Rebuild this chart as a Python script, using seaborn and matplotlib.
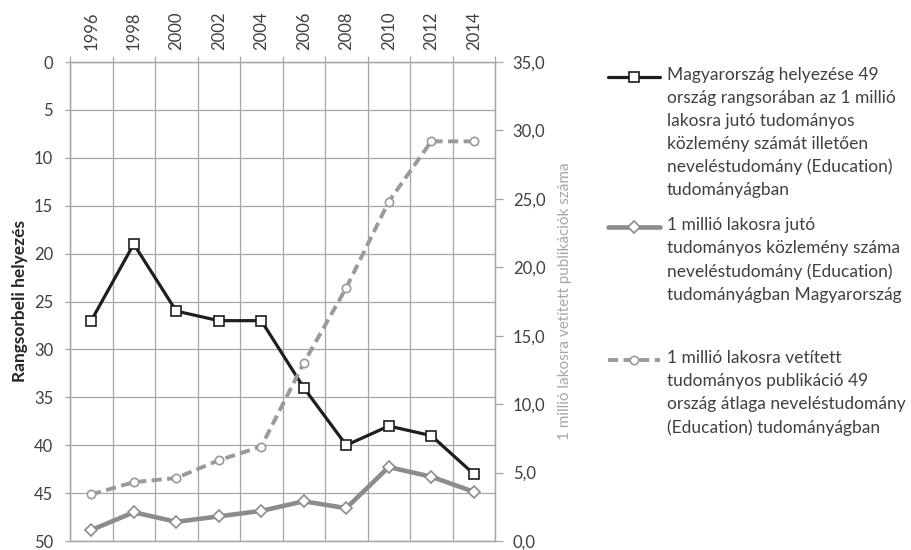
import matplotlib
matplotlib.use('Agg')
import matplotlib.pyplot as plt
from matplotlib.lines import Line2D
from matplotlib.ticker import FuncFormatter
import seaborn as sns
import numpy as np
import pandas as pd

# ============================================================
# DATA
# ============================================================

years = ['1996', '1998', '2000', '2002', '2004', '2006', '2008', '2010', '2012', '2014']
rank_hu = [27, 19, 26, 27, 27, 34, 40, 38, 39, 43]
pub_hu = [0.8, 2.1, 1.4, 1.8, 2.2, 2.9, 2.4, 5.4, 4.7, 3.6]
pub_avg = [3.4, 4.3, 4.6, 5.9, 6.9, 13.0, 18.5, 24.8, 29.2, 29.2]

rank_ticks = list(range(0, 51, 5))
pub_ticks = list(range(0, 36, 5))

legend_labels = [
    'Magyarország helyezése 49\nország rangsorában az 1 millió\nlakosra jutó tudományos\n'
    'közlemény számát illetően\nneveléstudomány (Education)\ntudományágban',
    '1 millió lakosra jutó\ntudományos közlemény száma\nneveléstudomány (Education)\n'
    'tudományágban Magyarország',
    '1 millió lakosra vetített\ntudományos publikáció 49\nország átlaga neveléstudomány\n'
    '(Education) tudományágban',
]

# ============================================================
# STYLE
# ============================================================

TEXT = '#404040'
GRID = '#a6a6a6'
BLACK = '#1e1e1e'
GRAY_SOLID = '#8c8c8c'
GRAY_DASH = '#9a9a9a'
DASH = (0, (2.6, 1.4))

sns.set_style('white')
plt.rcParams['font.family'] = ['Lato', 'DejaVu Sans']
plt.rcParams['font.size'] = 11.5

df = pd.DataFrame({'pos': np.arange(len(years)), 'rang': rank_hu,
                   'hu': pub_hu, 'atlag': pub_avg})

W, H = 912, 550
fig = plt.figure(figsize=(W / 100, H / 100), dpi=100)
ax = fig.add_axes([70 / W, 1 - 541 / H, 425 / W, 479 / H])
ax2 = ax.twinx()

# ============================================================
# SERIES
# ============================================================

sns.lineplot(data=df, x='pos', y='rang', ax=ax, color=BLACK, lw=2.3,
             marker='s', markersize=7, markerfacecolor='white',
             markeredgecolor=BLACK, markeredgewidth=1.2)
sns.lineplot(data=df, x='pos', y='hu', ax=ax2, color=GRAY_SOLID, lw=3.3,
             marker='D', markersize=6, markerfacecolor='white',
             markeredgecolor=GRAY_SOLID, markeredgewidth=1.2)
sns.lineplot(data=df, x='pos', y='atlag', ax=ax2, color=GRAY_DASH, lw=2.8,
             linestyle=DASH, marker='o', markersize=6, markerfacecolor='white',
             markeredgecolor=GRAY_DASH, markeredgewidth=1.2)

# ============================================================
# AXES
# ============================================================

ax.set_xlim(-0.5, len(years) - 0.5)
ax.set_ylim(50, 0)
ax.set_yticks(rank_ticks)
ax.xaxis.tick_top()
ax.set_xticks(range(len(years)))
ax.set_xticklabels(years, rotation=90, fontsize=12)
ax.set_xticks(np.arange(-0.5, len(years), 1), minor=True)
ax.tick_params(axis='x', which='major', length=0, pad=9, labelcolor=TEXT)
ax.tick_params(axis='x', which='minor', length=4.3, width=0.9, color=GRID,
               top=True, bottom=False)
ax.tick_params(axis='y', length=3.6, width=0.9, color=GRID, pad=8.5,
               labelcolor=TEXT, labelsize=12)
ax.grid(axis='x', which='minor', color=GRID, lw=0.9)
ax.grid(axis='y', which='major', color=GRID, lw=0.9)
ax.set_xlabel('')
ax.set_ylabel('Rangsorbeli helyezés', fontweight='bold', color='#262626', fontsize=12.5)
ax.yaxis.set_label_coords(-0.099, 0.5)

ax2.set_ylim(0, 35)
ax2.set_yticks(pub_ticks)
ax2.yaxis.set_major_formatter(FuncFormatter(lambda v, p: f'{v:.1f}'.replace('.', ',')))
ax2.tick_params(axis='y', length=5.8, width=0.9, color=GRID, pad=7,
                labelcolor=TEXT, labelsize=12)
ax2.set_ylabel('1 millió lakosra vetített publikációk száma', color='#a6a6a6', fontsize=11)
ax2.yaxis.set_label_coords(1.148, 0.5)

for a in (ax, ax2):
    for s in a.spines.values():
        s.set_color(GRID)
        s.set_linewidth(0.9)

# ============================================================
# LEGEND (Excel-like: handle next to first line)
# ============================================================

styles = [
    dict(color=BLACK, lw=2.3, ls='-', marker='s', mec=BLACK, ms=7),
    dict(color=GRAY_SOLID, lw=3.3, ls='-', marker='D', mec=GRAY_SOLID, ms=6),
    dict(color=GRAY_DASH, lw=2.8, ls=DASH, marker='o', mec=GRAY_DASH, ms=6),
]
first_line_y = [77, 227, 360]

for label, st, yp in zip(legend_labels, styles, first_line_y):
    y = 1 - yp / H
    fig.add_artist(Line2D([608 / W, 660 / W], [y, y], transform=fig.transFigure,
                          color=st['color'], lw=st['lw'], ls=st['ls']))
    fig.add_artist(Line2D([634 / W], [y], transform=fig.transFigure, ls='none',
                          marker=st['marker'], ms=st['ms'], mfc='white',
                          mec=st['mec'], mew=1.2))
    fig.text(667 / W, 1 - (yp - 10) / H, label, va='top', ha='left',
             color=TEXT, fontsize=12.5, linespacing=1.53)

fig.savefig('out.png', dpi=100)
